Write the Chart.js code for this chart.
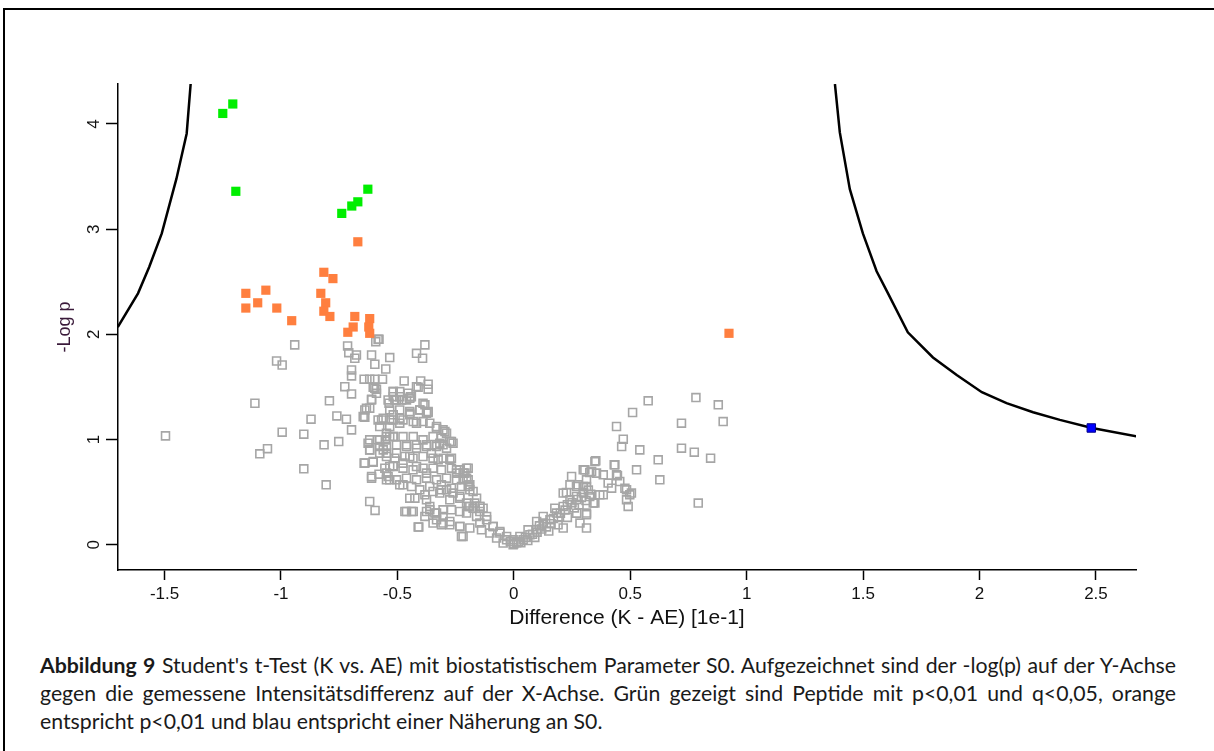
<!DOCTYPE html>
<html>
<head>
<meta charset="utf-8">
<script src="https://cdn.jsdelivr.net/npm/chart.js@4.4.1/dist/chart.umd.min.js"></script>
<style>
  html, body { margin: 0; padding: 0; background: #fff; }
  body { width: 1214px; height: 751px; position: relative; overflow: hidden; }
  #frame { position: absolute; left: 3px; top: 8px; width: 1230px; height: 780px; border: 2px solid #000; }
  #plot { position: absolute; left: 0; top: 0; }
  #caption { position: absolute; left: 40px; top: 651px; width: 1136px; font-family: Lato, "Open Sans", sans-serif; font-size: 19px; line-height: 28px; color: #1a1a1a; }
  #caption .line { white-space: nowrap; width: max-content; }
</style>
</head>
<body>
<div id="frame"></div>
<canvas id="plot" width="1214" height="640"></canvas>
<div id="caption">
  <div class="line"><b>Abbildung 9</b> Student's t-Test (K vs. AE) mit biostatistischem Parameter S0. Aufgezeichnet sind der -log(p) auf der Y-Achse</div>
  <div class="line">gegen die gemessene Intensitätsdifferenz auf der X-Achse. Grün gezeigt sind Peptide mit p&lt;0,01 und q&lt;0,05, orange</div>
  <div class="line">entspricht p&lt;0,01 und blau entspricht einer Näherung an S0.</div>
</div>
<script>
// axis ticks
const xTicks = [-1.5, -1, -0.5, 0, 0.5, 1, 1.5, 2, 2.5];
const yTicks = [0, 1, 2, 3, 4];

// S0 threshold curves [difference, -log p]
const leftCurve = [[-1.701, 2.07], [-1.614, 2.39], [-1.566, 2.64], [-1.512, 2.96], [-1.449, 3.48], [-1.405, 3.91], [-1.388, 4.38]];
const rightCurve = [[1.379, 4.38], [1.40, 3.92], [1.443, 3.38], [1.499, 2.96], [1.558, 2.60], [1.607, 2.39], [1.692, 2.02],
  [1.80, 1.78], [1.902, 1.614], [2.01, 1.45], [2.116, 1.346], [2.23, 1.26], [2.345, 1.187], [2.483, 1.11], [2.676, 1.03]];

// p<0.01 and q<0.05
const greenPts = [[-1.25, 4.10], [-1.207, 4.19], [-1.194, 3.36], [-0.739, 3.15], [-0.696, 3.22], [-0.67, 3.26], [-0.627, 3.38]];

// p<0.01
const orangePts = [[-1.151, 2.39], [-1.151, 2.25], [-1.10, 2.30], [-1.065, 2.42], [-1.018, 2.25], [-0.954, 2.13],
  [-0.816, 2.59], [-0.777, 2.53], [-0.829, 2.39], [-0.808, 2.30], [-0.816, 2.22], [-0.79, 2.17], [-0.67, 2.88],
  [-0.683, 2.17], [-0.619, 2.15], [-0.69, 2.07], [-0.713, 2.02], [-0.623, 2.07], [-0.619, 2.01], [0.924, 2.01]];

// approximation of S0
const bluePts = [[2.48, 1.11]];

// not significant
const greyPts = [
  [-1.496, 1.035], [-1.112, 1.345], [-1.091, 0.864], [-1.058, 0.913], [-0.995, 1.07], [-1.019, 1.747], [-0.995, 1.709],
  [-0.941, 1.90], [-0.902, 1.051], [-0.902, 0.722], [-0.871, 1.194], [-0.815, 0.95], [-0.806, 0.57], [-0.792, 1.368],
  [-0.76, 1.225], [-0.752, 0.981], [-0.719, 1.194], [-0.697, 1.092], [-0.726, 1.503], [-0.697, 1.434], [-0.697, 1.662],
  [-0.697, 1.605], [-0.714, 1.89], [-0.709, 1.826], [-0.676, 1.804], [-0.683, 1.773], [-0.643, 1.574], [-0.619, 1.574],
  [-0.597, 1.574], [-0.564, 1.574], [-0.611, 1.804], [-0.597, 1.716], [-0.55, 1.671], [-0.533, 1.779], [-0.593, 1.931],
  [-0.579, 1.953], [-0.604, 1.497], [-0.59, 1.479], [-0.611, 1.383], [-0.633, 1.298], [-0.64, 1.213], [-0.643, 0.776],
  [-0.604, 0.785], [-0.619, 0.411], [-0.596, 0.326], [-0.611, 0.633], [-0.619, 0.997], [-0.619, 0.902], [-0.586, 0.997],
  [-0.55, 0.997], [-0.518, 1.028], [-0.418, 1.82], [-0.382, 1.90], [-0.392, 1.773], [-0.471, 1.557], [-0.4, 1.557],
  [-0.368, 1.526], [-0.411, 1.497], [-0.368, 1.479], [-0.461, 0.316], [-0.432, 0.316], [-0.408, 0.168], [-0.518, 0.75],
  [-0.533, 0.617], [-0.54, 0.649], [-0.536, 1.345], [-0.518, 1.408], [-0.482, 1.377], [-0.444, 1.408], [-0.518, 1.235],
  [-0.49, 1.203], [-0.447, 1.25], [-0.404, 1.282], [-0.368, 1.257], [-0.568, 1.187], [-0.533, 1.124], [-0.547, 1.061],
  [-0.576, 0.934], [-0.576, 0.871], [-0.547, 0.871], [-0.533, 0.744], [-0.361, 0.332], [-0.332, 0.237], [-0.304, 0.206],
  [-0.382, 0.269], [-0.597, 1.488], [-0.59, 1.44], [-0.611, 1.377], [-0.579, 0.671],
  [-0.583, 1.953], [-0.518, 1.456], [-0.49, 1.408], [-0.447, 1.393], [-0.511, 1.377], [-0.64, 1.282], [-0.647, 1.218],
  [-0.619, 1.298], [-0.583, 1.187], [-0.576, 1.124], [-0.533, 1.187], [-0.49, 1.156], [-0.447, 1.235], [-0.418, 1.156],
  [-0.382, 1.330], [-0.375, 1.251], [-0.332, 1.108], [-0.296, 1.076], [-0.275, 0.981], [-0.318, 0.966], [-0.626, 0.966],
  [-0.576, 0.997], [-0.533, 1.028], [-0.619, 0.902], [-0.561, 0.902], [-0.504, 0.871], [-0.447, 0.839], [-0.39, 0.839],
  [-0.354, 0.871], [-0.325, 0.807], [-0.275, 0.807], [-0.64, 0.776], [-0.604, 0.791], [-0.611, 0.649], [-0.547, 0.681],
  [-0.518, 0.744], [-0.476, 0.776], [-0.418, 0.744], [-0.375, 0.681], [-0.49, 0.57], [-0.418, 0.617], [-0.361, 0.554],
  [-0.311, 0.57], [-0.268, 0.728], [-0.246, 0.681], [-0.21, 0.681], [-0.203, 0.728], [-0.375, 0.427], [-0.361, 0.364],
  [-0.332, 0.301], [-0.304, 0.269], [-0.275, 0.221], [-0.232, 0.174], [-0.218, 0.079], [-0.318, 0.491], [-0.275, 0.427],
  [-0.232, 0.459], [-0.189, 0.522], [-0.146, 0.364], [-0.117, 0.237], [-0.089, 0.174], [-0.06, 0.111], [-0.031, 0.047],
  [-0.003, 0.0], [-0.218, 0.617], [-0.196, 0.728], [-0.16, 0.269], [-0.189, 0.364], [-0.203, 0.301], [-0.139, 0.142],
  [-0.103, 0.111], [-0.074, 0.064], [-0.046, 0.016],
  [-0.518, 1.456], [-0.49, 1.456], [-0.454, 1.44], [-0.44, 1.408], [-0.54, 1.377], [-0.504, 1.377], [-0.461, 1.377],
  [-0.418, 1.503], [-0.39, 1.345], [-0.368, 1.266], [-0.404, 1.282], [-0.447, 1.266], [-0.49, 1.282], [-0.533, 1.282],
  [-0.561, 1.203], [-0.518, 1.187], [-0.476, 1.187], [-0.432, 1.171], [-0.39, 1.171], [-0.361, 1.156], [-0.332, 1.124],
  [-0.304, 1.092], [-0.289, 1.061], [-0.268, 0.981], [-0.311, 1.013], [-0.347, 1.028], [-0.39, 0.997], [-0.432, 1.028],
  [-0.476, 1.028], [-0.518, 1.028], [-0.547, 1.028], [-0.504, 0.95], [-0.461, 0.95], [-0.418, 0.95], [-0.375, 0.95],
  [-0.332, 0.95], [-0.304, 0.95],
  [-0.547, 0.934], [-0.461, 0.934], [-0.418, 0.918], [-0.375, 0.934], [-0.332, 0.934], [-0.289, 0.918], [-0.261, 0.966],
  [-0.547, 0.839], [-0.511, 0.823], [-0.468, 0.839], [-0.433, 0.823], [-0.347, 0.823], [-0.304, 0.823], [-0.268, 0.823],
  [-0.554, 0.728], [-0.476, 0.728], [-0.433, 0.712], [-0.39, 0.728], [-0.347, 0.728], [-0.311, 0.712], [-0.232, 0.712],
  [-0.547, 0.617], [-0.504, 0.617], [-0.461, 0.633], [-0.375, 0.633], [-0.332, 0.617], [-0.289, 0.633], [-0.246, 0.617],
  [-0.203, 0.633], [-0.476, 0.57], [-0.439, 0.554], [-0.404, 0.522], [-0.447, 0.443], [-0.425, 0.443], [-0.382, 0.475],
  [-0.347, 0.506], [-0.311, 0.522], [-0.268, 0.538], [-0.225, 0.554], [-0.189, 0.57], [-0.468, 0.316], [-0.439, 0.316],
  [-0.375, 0.316], [-0.339, 0.301], [-0.304, 0.332], [-0.268, 0.332], [-0.232, 0.316], [-0.196, 0.364], [-0.168, 0.396],
  [-0.146, 0.364], [-0.411, 0.168], [-0.347, 0.206], [-0.311, 0.19], [-0.275, 0.19], [-0.225, 0.079], [-0.232, 0.174],
  [-0.189, 0.159], [-0.146, 0.206], [-0.117, 0.269], [-0.089, 0.174], [-0.06, 0.126], [-0.031, 0.079], [-0.003, 0.047],
  [0.026, 0.079], [0.061, 0.142], [0.098, 0.221], [-0.289, 0.522], [-0.261, 0.491], [-0.232, 0.443], [-0.203, 0.396],
  [-0.175, 0.348], [-0.146, 0.316], [-0.246, 0.712], [-0.218, 0.681], [-0.196, 0.617], [-0.196, 0.554], [-0.175, 0.506],
  [-0.16, 0.443], [-0.132, 0.348], [0.0, 0.01], [0.012, 0.02], [-0.015, 0.03], [0.02, 0.03],
  [0.04, 0.047], [0.069, 0.095], [0.097, 0.142], [0.126, 0.206], [0.155, 0.237], [0.183, 0.301], [0.212, 0.364],
  [0.241, 0.427], [0.269, 0.459], [0.298, 0.491], [0.326, 0.459], [0.212, 0.491], [0.241, 0.57], [0.269, 0.554],
  [0.298, 0.554], [0.312, 0.617], [0.248, 0.649], [0.348, 0.791], [0.298, 0.712], [0.334, 0.696], [0.355, 0.681],
  [0.434, 0.76], [0.441, 0.665], [0.405, 0.586], [0.455, 0.601], [0.484, 0.522], [0.505, 0.491], [0.484, 0.427],
  [0.491, 0.364], [0.312, 0.301], [0.284, 0.206], [0.312, 0.159], [0.348, 0.396], [0.384, 0.475], [0.541, 0.902],
  [0.527, 0.712], [0.62, 0.807], [0.627, 0.617], [0.441, 1.124], [0.47, 1.004], [0.463, 0.934], [0.51, 1.257],
  [0.577, 1.368], [0.72, 1.156], [0.72, 0.918], [0.775, 0.88], [0.782, 1.399], [0.792, 0.396], [0.878, 1.33],
  [0.899, 1.171], [0.845, 0.823], [0.352, 0.798], [0.305, 0.712], [0.326, 0.687], [0.384, 0.665], [0.431, 0.76],
  [0.445, 0.655], [0.42, 0.538], [0.477, 0.538], [0.498, 0.475], [0.226, 0.497], [0.276, 0.57], [0.312, 0.554],
  [0.369, 0.475], [0.341, 0.396], [0.312, 0.285], [0.212, 0.159], [0.176, 0.348], [0.126, 0.269],
  [0.05, 0.07], [0.08, 0.1], [0.1, 0.12], [0.12, 0.15], [0.14, 0.17], [0.16, 0.2], [0.17, 0.25], [0.19, 0.26],
  [0.2, 0.3], [0.22, 0.33], [0.23, 0.38], [0.25, 0.4], [0.26, 0.35], [0.27, 0.43], [0.28, 0.38], [0.29, 0.45],
  [0.3, 0.5], [0.31, 0.42], [0.32, 0.52], [0.33, 0.48], [0.27, 0.3], [0.23, 0.26], [0.19, 0.19], [0.15, 0.13],
  [0.11, 0.18], [0.09, 0.07], [0.06, 0.04], [0.03, 0.02]
];

function toXY(list) {
    return list.map(p => ({ x: p[0], y: p[1] }));
}

const tickFont = { family: '"Liberation Sans", Arial, sans-serif', size: 17 };
const titleFont = { family: '"Liberation Sans", Arial, sans-serif', size: 21 };

new Chart(document.getElementById('plot'), {
    type: 'scatter',
    data: {
        datasets: [{
            label: 'S0',
            data: toXY(bluePts),
            pointStyle: 'rect',
            pointRadius: 6,
            backgroundColor: '#0000ff',
            borderColor: '#00008b',
            borderWidth: 1
        },
        {
            label: 'curve right',
            data: toXY(rightCurve),
            showLine: true,
            pointRadius: 0,
            borderColor: '#000',
            borderWidth: 2.5,
            tension: 0
        },
        {
            label: 'curve left',
            data: toXY(leftCurve),
            showLine: true,
            pointRadius: 0,
            borderColor: '#000',
            borderWidth: 2.5,
            tension: 0
        },
        {
            label: 'p<0,01 und q<0,05',
            data: toXY(greenPts),
            pointStyle: 'rect',
            pointRadius: 6.5,
            backgroundColor: '#00ee00',
            borderColor: '#00ee00',
            borderWidth: 0
        },
        {
            label: 'p<0,01',
            data: toXY(orangePts),
            pointStyle: 'rect',
            pointRadius: 6.5,
            backgroundColor: '#ff7f3f',
            borderColor: '#ff7f3f',
            borderWidth: 0
        },
        {
            label: 'n.s.',
            data: toXY(greyPts),
            pointStyle: 'rect',
            pointRadius: 5.6,
            backgroundColor: 'rgba(255,255,255,0)',
            borderColor: '#a6a6a6',
            borderWidth: 1.6
        }]
    },
    options: {
        responsive: false,
        animation: false,
        layout: {
            padding: { left: 20, top: 84, right: 78, bottom: 0 }
        },
        plugins: {
            legend: { display: false },
            tooltip: { enabled: false }
        },
        scales: {
            x: {
                type: 'linear',
                min: -1.70,
                max: 2.672,
                afterBuildTicks: function(scale) {
                    scale.ticks = xTicks.map(v => ({ value: v }));
                },
                afterFit: function(scale) {
                    scale.height = 70;
                },
                grid: { drawOnChartArea: false, drawTicks: true, tickLength: 10, tickColor: '#000', tickWidth: 1.5 },
                border: { display: true, color: '#000', width: 1.5 },
                ticks: {
                    color: '#111', font: tickFont, padding: 4, maxRotation: 0,
                    callback: function(value) { return String(value); }
                },
                title: {
                    display: true,
                    text: 'Difference (K - AE) [1e-1]',
                    color: '#111',
                    font: titleFont,
                    padding: { top: 0, bottom: 9 }
                }
            },
            y: {
                type: 'linear',
                min: -0.24,
                max: 4.38,
                afterBuildTicks: function(scale) {
                    scale.ticks = yTicks.map(v => ({ value: v }));
                },
                afterFit: function(scale) {
                    scale.width = 98;
                },
                grid: { drawOnChartArea: false, drawTicks: true, tickLength: 12, tickColor: '#000', tickWidth: 1.5 },
                border: { display: true, color: '#000', width: 1.5 },
                ticks: {
                    color: '#111', font: tickFont, padding: 7, minRotation: 90, maxRotation: 90, crossAlign: 'center',
                    callback: function(value) { return String(value); }
                },
                title: {
                    display: true,
                    text: '-Log p',
                    color: '#3a1a3a',
                    font: { family: tickFont.family, size: 18 },
                    padding: { top: 34, bottom: 0 }
                }
            }
        }
    }
});

// caption: the first line sets the font size, the first two lines are justified
function fitCaption() {
    const cap = document.getElementById('caption');
    const lines = cap.querySelectorAll('.line');
    cap.style.fontSize = '19px';
    lines.forEach(ln => { ln.style.wordSpacing = '0px'; });
    const size = 19 * 1118 / lines[0].getBoundingClientRect().width;
    cap.style.fontSize = size.toFixed(2) + 'px';
    for (let i = 0; i < lines.length - 1; i++) {
        const ln = lines[i];
        const gaps = ln.textContent.trim().split(/\s+/).length - 1;
        const extra = (1136 - ln.getBoundingClientRect().width) / gaps;
        ln.style.wordSpacing = extra.toFixed(2) + 'px';
    }
}
fitCaption();
if (document.fonts) document.fonts.ready.then(fitCaption);
</script>
</body>
</html>
